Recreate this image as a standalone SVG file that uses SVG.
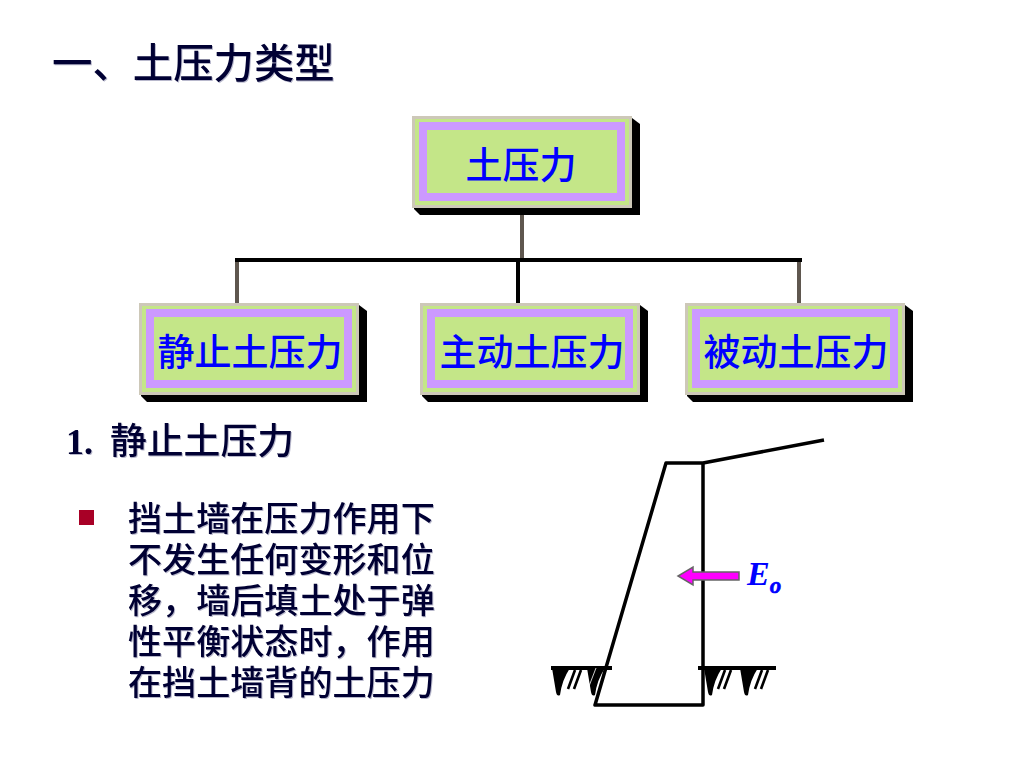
<svg xmlns="http://www.w3.org/2000/svg" width="1024" height="768" viewBox="0 0 1024 768">
<style>
text{font-family:"Liberation Serif","Noto Sans CJK SC",sans-serif;font-weight:500}
.dark{fill:#000033;filter:drop-shadow(1px 1px 0 #b8b8cc)}
.blue{fill:#0000ff;font-size:37px;text-anchor:middle}
.body{font-size:34.100px}
.shadow{fill:#000}.outer{fill:#cdc8b8}.band{fill:#c4e688}.mid{fill:#cc99ff}
.gray{stroke:#5f574f;stroke-width:4;fill:none}
.blk{stroke:#000;stroke-width:4;fill:none}
.wall{stroke:#000;stroke-width:3.500;fill:none;stroke-linejoin:round}
.hatch{stroke:#000;stroke-width:2.600;fill:none}
</style>
<defs>
<g id="box">
<path class="shadow" d="M2 2H220L228 8V99H8L2 93Z"/>
<rect class="outer" width="220" height="92"/>
<rect class="band" x="3" y="3" width="214" height="86"/>
<rect class="mid" x="7" y="6" width="206" height="79"/>
<rect class="band" x="15" y="14" width="190" height="63"/>
</g>
<path id="tooth" d="M0 0L4 24Q5 29 8 27Q10 12 18 0Z" fill="#000"/>
<path id="slash" class="hatch" d="M0 19L7 0M6 19L13 0"/>
</defs>
<text class="dark" x="52" y="78" font-size="40.400">一、土压力类型</text>
<g id="connectors">
<path class="gray" d="M522 208V260"/>
<path class="blk" d="M235 260H802"/>
<path class="gray" d="M237 262V303"/>
<path class="blk" d="M518 262V303"/>
<path class="gray" d="M799 262V303"/>
</g>
<g id="node-root"><use href="#box" x="412" y="116"/><text class="blue" x="521" y="179">土压力</text></g>
<g id="node-static"><use href="#box" x="139" y="303"/><text class="blue" x="250" y="366">静止土压力</text></g>
<g id="node-active"><use href="#box" x="420" y="303"/><text class="blue" x="532" y="366">主动土压力</text></g>
<g id="node-passive"><use href="#box" x="685" y="303"/><text class="blue" x="796" y="366">被动土压力</text></g>
<text class="dark" x="66" y="454" font-size="36" style="font-family:'Liberation Serif',serif;font-weight:700">1.</text>
<text class="dark" x="110" y="454" font-size="36.800">静止土压力</text>
<rect x="79" y="510" width="15" height="15" fill="#a80026"/>
<text class="dark body"><tspan x="128" y="531">挡土墙在压力作用下</tspan><tspan x="128" y="572">不发生任何变形和位</tspan><tspan x="128" y="613">移，墙后填土处于弹</tspan><tspan x="128" y="654">性平衡状态时，作用</tspan><tspan x="128" y="695">在挡土墙背的土压力</tspan></text>
<g id="wall">
<path d="M551 666H612V670H551ZM698 666H776V670H698Z" fill="#000"/>
<use href="#tooth" x="552" y="668"/>
<use href="#tooth" x="587" y="668"/>
<use href="#tooth" x="704" y="668"/>
<use href="#tooth" x="740" y="668"/>
<use href="#slash" x="568" y="670"/>
<use href="#slash" x="718" y="670"/>
<use href="#slash" x="755" y="670"/>
<path d="M596 668L586 694" stroke="#fff" stroke-width="0.800" fill="none"/>
<path class="wall" d="M824 440L703 463H666L595 705H703V463"/>
</g>
<path d="M739 572H693V567L678 576L693 585V580H739Z" fill="#ff00ff" stroke="#666" stroke-width="1.500"/>
<text x="747" y="585" font-size="34" fill="#0000ff" style="font-family:'Liberation Serif',serif;font-weight:700;font-style:italic">E<tspan dy="8" font-size="23" stroke="#0000ff" stroke-width="0.600">o</tspan></text>
</svg>
